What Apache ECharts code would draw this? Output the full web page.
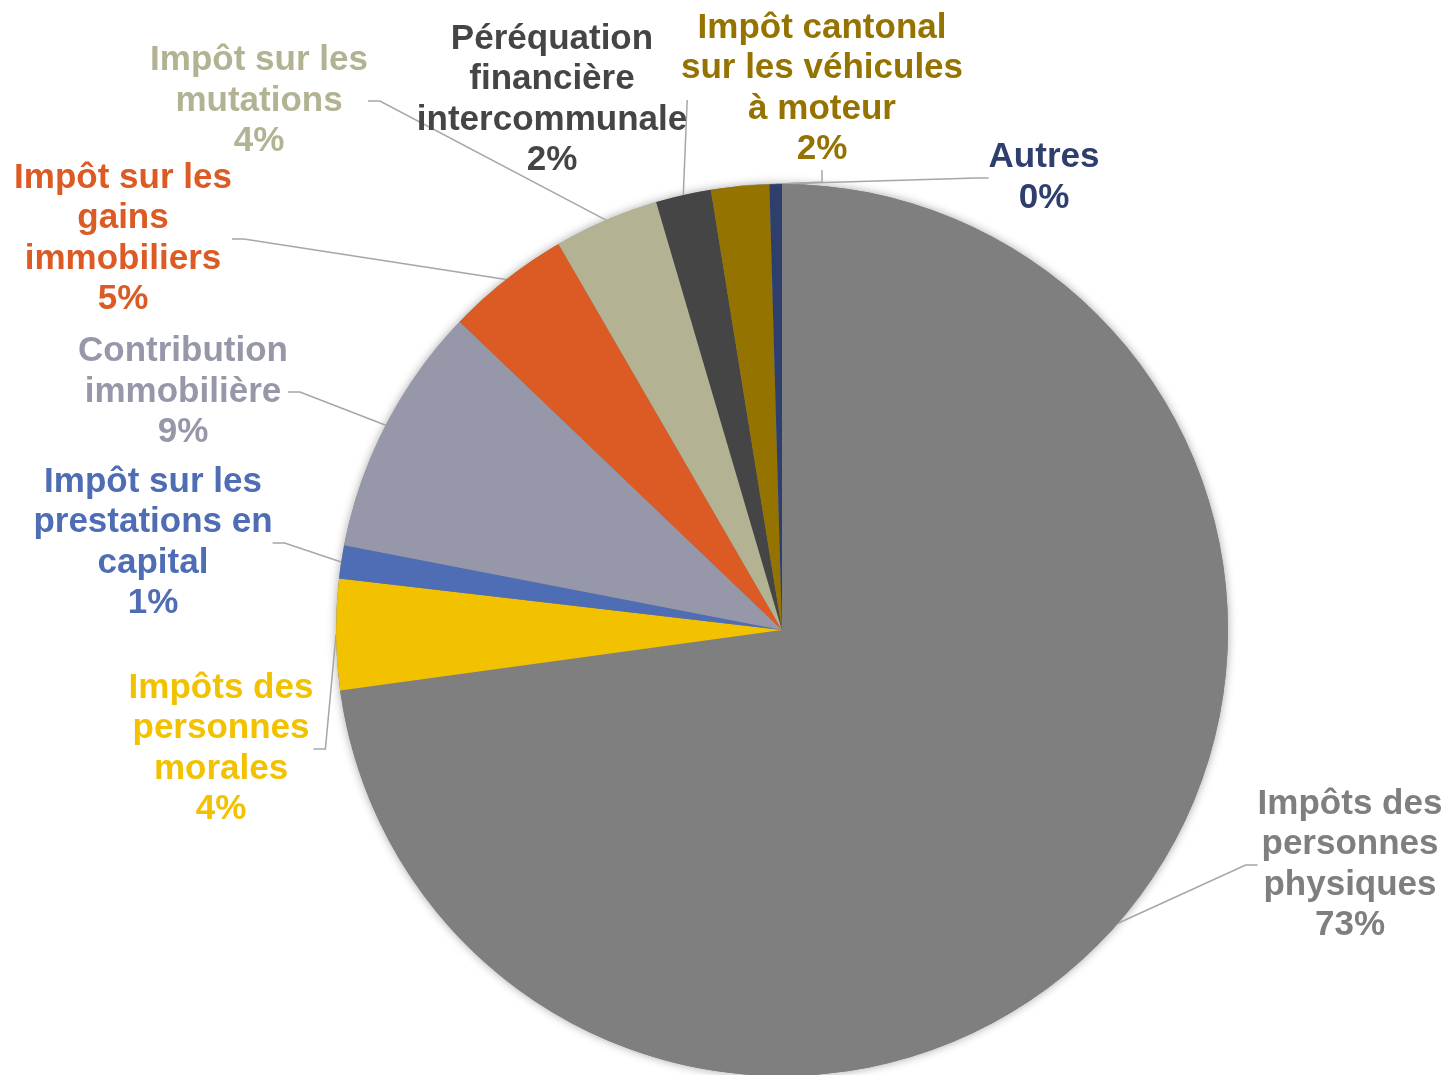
<!DOCTYPE html>
<html>
<head>
<meta charset="utf-8">
<title>Recettes fiscales</title>
<script src="https://cdn.jsdelivr.net/npm/echarts@6/dist/echarts.min.js"></script>
<style>
  html, body { margin: 0; padding: 0; background: #fff; }
  #chart { width: 1448px; height: 1075px; }
</style>
</head>
<body>
<div id="chart"></div>
<script>
// categories, clockwise from 12 o'clock (line breaks as in the labels)
var categories = [
  'Impôts des\npersonnes\nphysiques',
  'Impôts des\npersonnes\nmorales',
  'Impôt sur les\nprestations en\ncapital',
  'Contribution\nimmobilière',
  'Impôt sur les\ngains\nimmobiliers',
  'Impôt sur les\nmutations',
  'Péréquation\nfinancière\nintercommunale',
  'Impôt cantonal\nsur les véhicules\nà moteur',
  'Autres'
];
// share of total (%)
var values = [72.8, 4.0, 1.2, 9.1, 4.5, 3.8, 2.0, 2.1, 0.45];
var colors = ['#7f7f7f', '#f2c200', '#4f6db4', '#9698aa', '#dc5a23', '#b3b393', '#454545', '#957300', '#2e3f6e'];

// label block centres (layout only)
var labelPos = [
  [1350, 865], [221, 749], [153, 543], [183, 392], [123, 239],
  [259, 101], [552, 100], [822, 89], [1044, 178]
];

var chart = echarts.init(document.getElementById('chart'));

var total = values.reduce(function (a, b) { return a + b; }, 0);

chart.setOption({
  animation: false,
  series: [
    {
      // soft shadow under the whole pie
      type: 'pie',
      silent: true,
      z: 1,
      center: [782, 630],
      radius: 446,
      label: { show: false },
      labelLine: { show: false },
      itemStyle: { color: '#7f7f7f', shadowBlur: 10, shadowColor: 'rgba(0,0,0,0.35)' },
      data: [total]
    },
    {
      type: 'pie',
      z: 2,
      center: [782, 630],
      radius: 446,
      startAngle: 90,
      clockwise: true,
      avoidLabelOverlap: false,
      data: categories.map(function (c, i) {
        return {
          name: c,
          value: values[i],
          itemStyle: { color: colors[i] },
          label: { color: colors[i] }
        };
      }),
      label: {
        show: true,
        position: 'outside',
        fontFamily: '"Liberation Sans", Arial, sans-serif',
        fontWeight: 'bold',
        fontSize: 35,
        lineHeight: 40.5,
        align: 'center',
        formatter: function (p) {
          return p.name + '\n' + Math.round(p.percent) + '%';
        }
      },
      labelLine: {
        show: true,
        length: 20,
        length2: 12,
        lineStyle: { color: '#a6a6a6', width: 1.5 }
      },
      labelLayout: function (p) {
        var pos = labelPos[p.dataIndex];
        return { x: pos[0], y: pos[1], align: 'center', verticalAlign: 'middle' };
      }
    }
  ]
});
</script>
</body>
</html>
